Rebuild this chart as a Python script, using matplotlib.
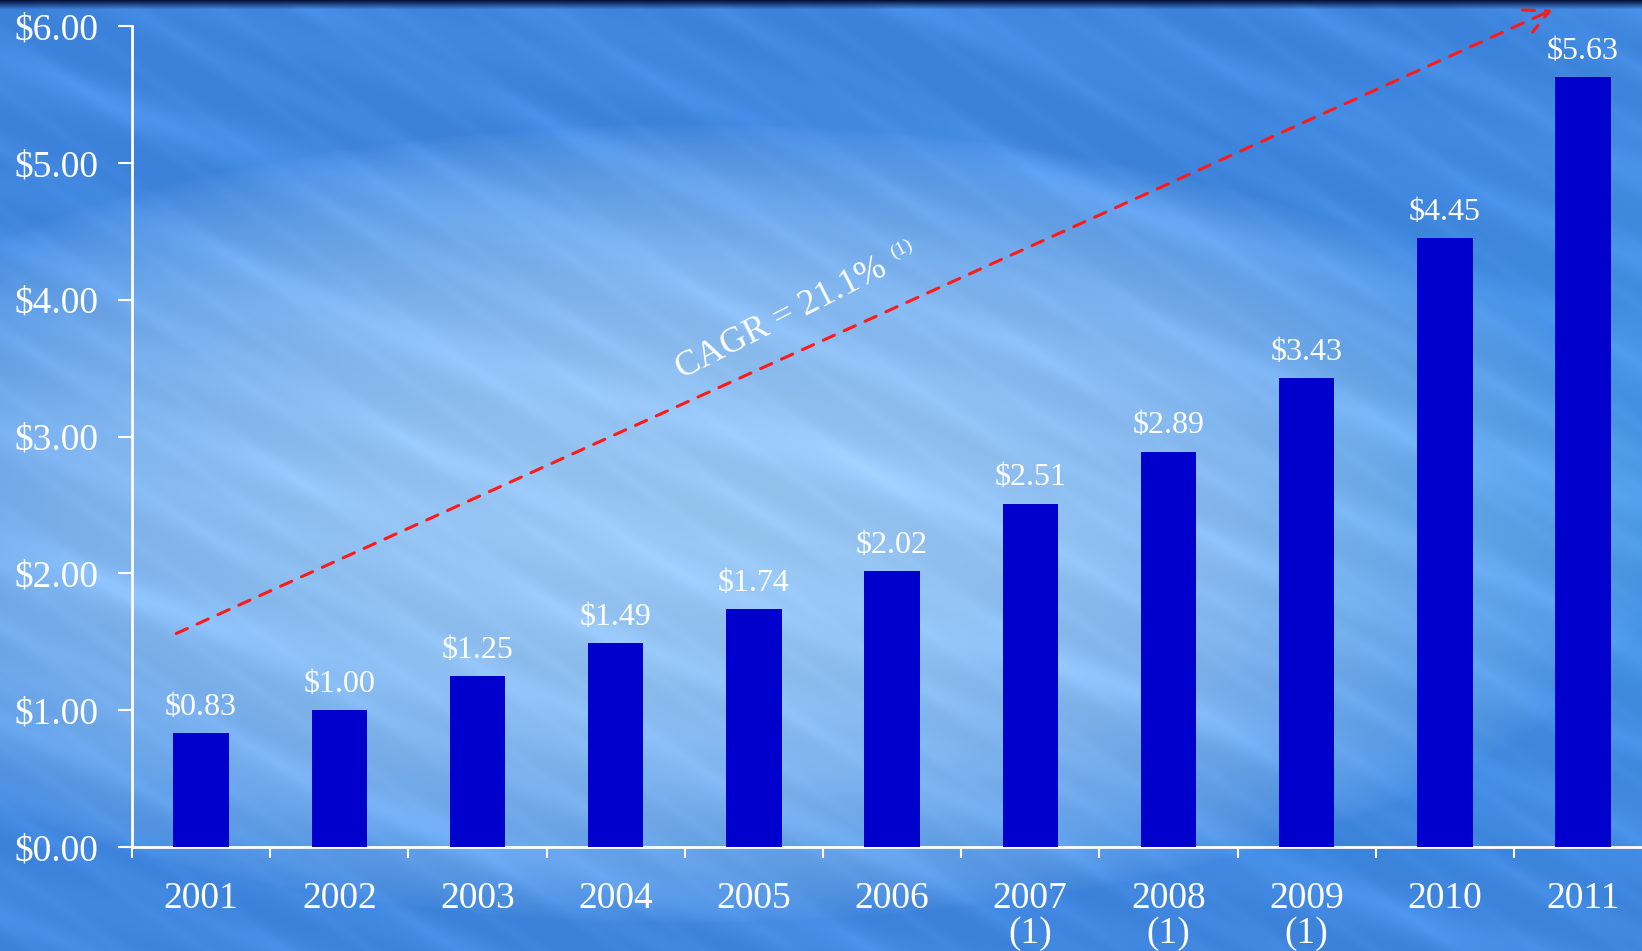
import numpy as np
import matplotlib
matplotlib.use("Agg")
import matplotlib.pyplot as plt

years = ["2001", "2002", "2003", "2004", "2005", "2006", "2007\n(1)", "2008\n(1)", "2009\n(1)", "2010", "2011"]
values = [0.83, 1.00, 1.25, 1.49, 1.74, 2.02, 2.51, 2.89, 3.43, 4.45, 5.63]
value_labels = ["$0.83", "$1.00", "$1.25", "$1.49", "$1.74", "$2.02", "$2.51", "$2.89", "$3.43", "$4.45", "$5.63"]
yticks = [0, 1, 2, 3, 4, 5, 6]
ytick_labels = ["$0.00", "$1.00", "$2.00", "$3.00", "$4.00", "$5.00", "$6.00"]
cagr_start = (-0.18, 1.56)
cagr_end = (9.78, 6.12)

W, H = 1642, 951
fig = plt.figure(figsize=(W / 100, H / 100), dpi=100)

# background
bg = fig.add_axes([0, 0, 1, 1])
yy, xx = np.mgrid[0:H, 0:W]
u = xx / W
v = yy / H
dark = np.array([0x3c, 0x82, 0xda]) / 255
light = np.array([0x94, 0xc2, 0xef]) / 255
d = ((u - 0.42) / 0.6) ** 2 + ((v - 0.55) / 0.42) ** 2
t = np.clip(1 - d, 0, 1) ** 0.7
img = dark[None, None, :] * (1 - t[..., None]) + light[None, None, :] * t[..., None]
# right side cyan tint
r = np.clip((u - 0.75) / 0.25, 0, 1)[..., None] * np.clip(1 - np.abs(v - 0.5) / 0.5, 0, 1)[..., None]
img = img * (1 - 0.5 * r) + np.array([0x48, 0xa2, 0xe6]) / 255 * 0.5 * r
# soft streaks
for ang, per, amp in [(0.45, 173, 0.035), (0.33, 231, 0.03), (0.62, 97, 0.02), (0.25, 311, 0.03)]:
    s = np.sin((xx * np.sin(ang) - yy * np.cos(ang)) / per * 2 * np.pi)
    img = img + amp * (s[..., None] ** 10) * np.array([0.7, 0.75, 0.85])
img = np.clip(img, 0, 1)
# dark top strip
top = np.clip(1 - yy / 9.0, 0, 1)[..., None]
img = img * (1 - top) + np.array([0.02, 0.08, 0.25]) * top
bg.imshow(img, aspect="auto", extent=[0, 1, 0, 1], origin="upper")
bg.axis("off")

left = 132 / W
bottom = (H - 847) / H
height = (847 - 26) / H
width = 11 * 138.2 / W
ax = fig.add_axes([left, bottom, width, height])
ax.patch.set_alpha(0)

x = np.arange(len(years))
ax.bar(x, values, width=0.4, color="#0000cc", zorder=3)
ax.set_xlim(-0.5, 10.5)
ax.set_ylim(0, 6)

font = "Liberation Serif"
for xi, val, lab in zip(x, values, value_labels):
    ax.annotate(lab, (xi, val), xytext=(0, 13), textcoords="offset points",
                ha="center", va="baseline", color="white", fontsize=23, family=font)

ax.set_yticks(yticks)
ax.set_yticklabels(ytick_labels, family=font, fontsize=27, color="white")
ax.set_xticks(x)
ax.set_xticklabels(years, family=font, fontsize=27, color="white", linespacing=1.0, va="top")
ax.set_xticks(np.arange(-0.5, 11, 1), minor=True)
ax.tick_params(axis="x", which="major", length=0, pad=25)
ax.tick_params(axis="x", which="minor", length=8, width=1.5, color="white", direction="out")
ax.tick_params(axis="y", length=10, width=1.5, color="white", direction="out", pad=14)
for s in ["top", "right"]:
    ax.spines[s].set_visible(False)
for s in ["left", "bottom"]:
    ax.spines[s].set_color("white")
    ax.spines[s].set_linewidth(2)

ax.annotate("", xy=cagr_end, xytext=cagr_start, annotation_clip=False,
            arrowprops=dict(arrowstyle="->,head_length=0.5,head_width=0.25", color="#ff1a1a", lw=2.2,
                            linestyle=(0, (4, 3.5)), mutation_scale=35, shrinkA=0, shrinkB=0))
ax.text(4.2, 3.86, "CAGR = 21.1%", rotation=27, rotation_mode="anchor",
        ha="center", va="center", color="white", fontsize=26, family=font)
ax.text(5.07, 4.37, "(1)", rotation=27, rotation_mode="anchor",
        ha="center", va="center", color="white", fontsize=14, family=font)

fig.savefig("out.png", dpi=100)
